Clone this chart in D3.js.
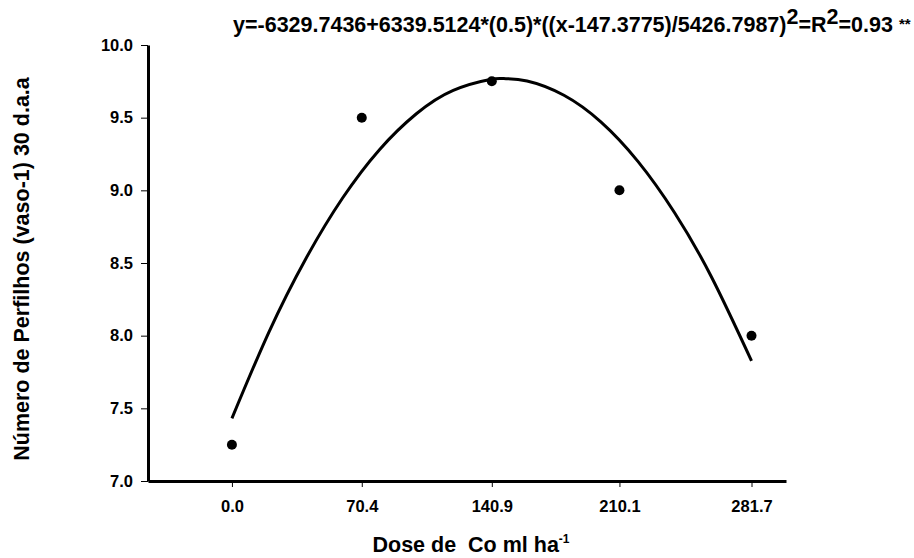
<!DOCTYPE html>
<html>
<head>
<meta charset="utf-8">
<script src="https://cdn.jsdelivr.net/npm/d3@7"></script>
<style>
  html, body { margin: 0; padding: 0; background: #fff; }
  svg { display: block; }
  text { font-family: "Liberation Sans", Arial, sans-serif; font-weight: bold; fill: #000; }
</style>
</head>
<body>
<svg id="chart" width="914" height="558"></svg>
<script>
// Observed data
const doses = [0.0, 70.4, 140.9, 210.1, 281.7];
const tillers = [7.25, 9.5, 9.75, 9.0, 8.0];
const xTickLabels = ["0.0", "70.4", "140.9", "210.1", "281.7"];
const yTicks = [7.0, 7.5, 8.0, 8.5, 9.0, 9.5, 10.0];

// Fitted curve, values
const curveX = [0, 20, 40, 60, 80, 100, 120, 140, 147.4, 160, 180, 200, 220, 240, 260, 281.7];
const curveY = [7.431, 8.023, 8.528, 8.947, 9.280, 9.527, 9.688, 9.763, 9.769, 9.752, 9.654, 9.471, 9.201, 8.846, 8.404, 7.827];

const svg = d3.select("#chart");
const mLeft = 148, mRight = 786, mTop = 45, mBottom = 481;

const x = d3.scaleLinear().domain([-45.5, 300.4]).range([mLeft, mRight]);
const y = d3.scaleLinear().domain([7.0, 10.0]).range([mBottom, mTop]);

// Y axis
const yAxis = svg.append("g").attr("transform", `translate(${mLeft},0)`)
  .call(d3.axisLeft(y).tickValues(yTicks).tickFormat(d3.format(".1f")).tickSize(7).tickSizeOuter(0));
yAxis.select(".domain").attr("stroke", "#000").attr("stroke-width", 3);
yAxis.selectAll(".tick line").attr("stroke", "#000").attr("stroke-width", 1);
yAxis.selectAll(".tick text").attr("font-size", 16.5).attr("x", -15)
  .style("font-family", '"Liberation Sans", Arial, sans-serif').style("font-weight", "bold");

// X axis
const xAxis = svg.append("g").attr("transform", `translate(0,${mBottom})`)
  .call(d3.axisBottom(x).tickValues(doses).tickFormat((d, i) => xTickLabels[i]).tickSize(6).tickSizeOuter(0));
xAxis.select(".domain").attr("stroke", "#000").attr("stroke-width", 3);
xAxis.selectAll(".tick line").attr("stroke", "#000").attr("stroke-width", 1);
xAxis.selectAll(".tick text").attr("font-size", 16.5).attr("y", 19)
  .style("font-family", '"Liberation Sans", Arial, sans-serif').style("font-weight", "bold");

// Fitted curve
const pts = curveX.map((d, i) => [d, curveY[i]]);
svg.append("path").datum(pts)
  .attr("fill", "none").attr("stroke", "#000").attr("stroke-width", 3)
  .attr("d", d3.line().x(d => x(d[0])).y(d => y(d[1])).curve(d3.curveNatural));

// Points
svg.selectAll("circle.pt").data(doses).join("circle")
  .attr("class", "pt")
  .attr("cx", d => x(d))
  .attr("cy", (d, i) => y(tillers[i]))
  .attr("r", 5).attr("fill", "#000");

// Title (equation)
const title = svg.append("text").attr("x", 233).attr("y", 32).attr("font-size", 21.5);
title.append("tspan").text("y=-6329.7436+6339.5124*(0.5)*((x-147.3775)/5426.7987)");
title.append("tspan").attr("dy", -8).text("2");
title.append("tspan").attr("dy", 8).text("=R");
title.append("tspan").attr("dy", -8).text("2");
title.append("tspan").attr("dy", 8).text("=0.93 ");
title.append("tspan").attr("font-size", 15).attr("dy", -3).text("**");

// X label
const xl = svg.append("text").attr("x", 471).attr("y", 552).attr("text-anchor", "middle").attr("font-size", 21.5);
xl.append("tspan").text("Dose de\u00a0 Co ml ha");
xl.append("tspan").attr("dy", -9).attr("font-size", 12).text("-1");

// Y label
svg.append("text").attr("transform", "translate(28.5,269) rotate(-90)")
  .attr("text-anchor", "middle").attr("font-size", 21.5)
  .text("Número de Perfilhos (vaso-1) 30 d.a.a");
</script>
</body>
</html>
